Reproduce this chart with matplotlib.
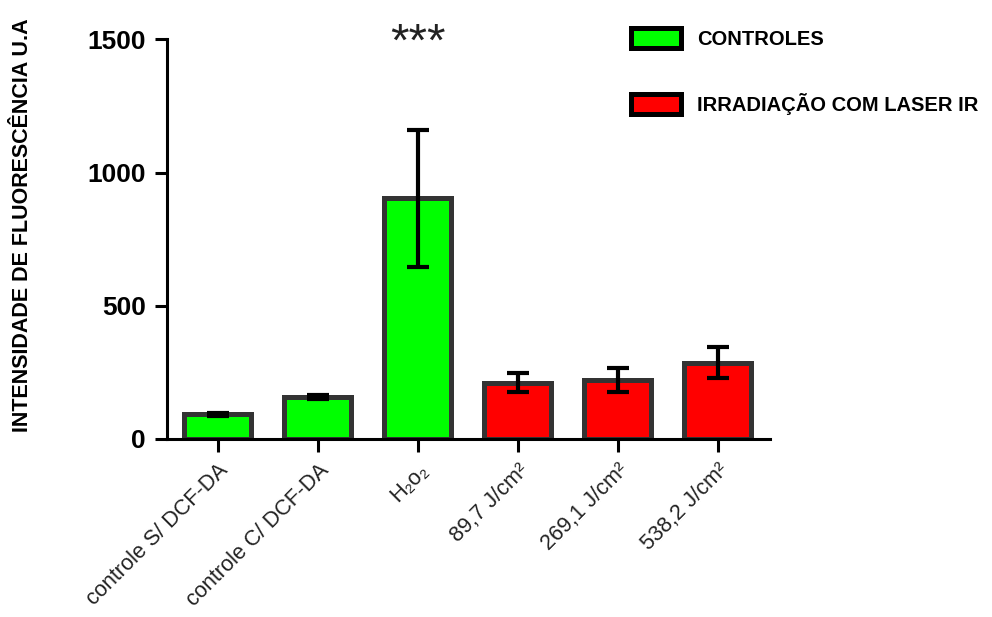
import matplotlib
matplotlib.use('Agg')
import matplotlib.pyplot as plt
from matplotlib.patches import Patch

plt.rcParams['font.family'] = ['Liberation Sans', 'DejaVu Sans']

grupos = ['controle S/ DCF-DA', 'controle C/ DCF-DA', 'H₂o₂',
          '89,7 J/cm²', '269,1 J/cm²', '538,2 J/cm²']
medias = [92, 158, 903, 212, 222, 287]
erros = [4, 9, 259, 36, 45, 58]
cores = ['#00ff00', '#00ff00', '#00ff00', '#ff0000', '#ff0000', '#ff0000']
legenda = ['CONTROLES', 'IRRADIAÇÃO COM LASER IR']
cores_legenda = ['#00ff00', '#ff0000']
y_ticks = [0, 500, 1000, 1500]


def main():
    fig = plt.figure(figsize=(9.92, 6.17), dpi=100)
    ax = fig.add_axes([0.1683, 0.2885, 0.6079, 0.6475])

    x = list(range(len(grupos)))
    ax.bar(x, medias, width=0.67, color=cores, edgecolor='#333333',
           linewidth=3.6, zorder=2)
    ax.errorbar(x, medias, yerr=erros, fmt='none', ecolor='black',
                elinewidth=3, capsize=8, capthick=3, zorder=3)

    ax.set_xlim(-0.51, 5.52)
    ax.set_ylim(0, 1500)
    ax.set_yticks(y_ticks)
    ax.set_yticklabels([str(v) for v in y_ticks], fontsize=19, fontweight='bold')
    ax.set_xticks(x)
    ax.set_xticklabels(grupos, fontsize=15.6, rotation=45, ha='right', va='top',
                       rotation_mode='anchor', color='#222222')

    for s in ['top', 'right']:
        ax.spines[s].set_visible(False)
    for s in ['left', 'bottom']:
        ax.spines[s].set_linewidth(2.2)
    ax.tick_params(axis='both', length=9, width=2.2, direction='out')
    ax.tick_params(axis='y', pad=6)
    ax.tick_params(axis='x', pad=6)

    ax.set_ylabel('INTENSIDADE DE FLUORESCÊNCIA U.A', fontsize=15.5, fontweight='bold')
    ax.yaxis.set_label_coords(-0.222, 0.535)

    # significancia
    ax.text(2, 1440, '***', ha='center', va='baseline', fontsize=34,
            color='#222222', clip_on=False)

    handles = [Patch(facecolor=c, edgecolor='black', linewidth=3.6) for c in cores_legenda]
    fig.legend(handles, legenda, loc='upper left', bbox_to_anchor=(0.6356, 0.955),
               frameon=False, prop={'size': 14.5, 'weight': 'bold'},
               handlelength=2.5, handleheight=1.15, labelspacing=2.2,
               handletextpad=0.8, borderpad=0, borderaxespad=0)

    fig.savefig('out.png', dpi=100)


if __name__ == "__main__":
    main()
